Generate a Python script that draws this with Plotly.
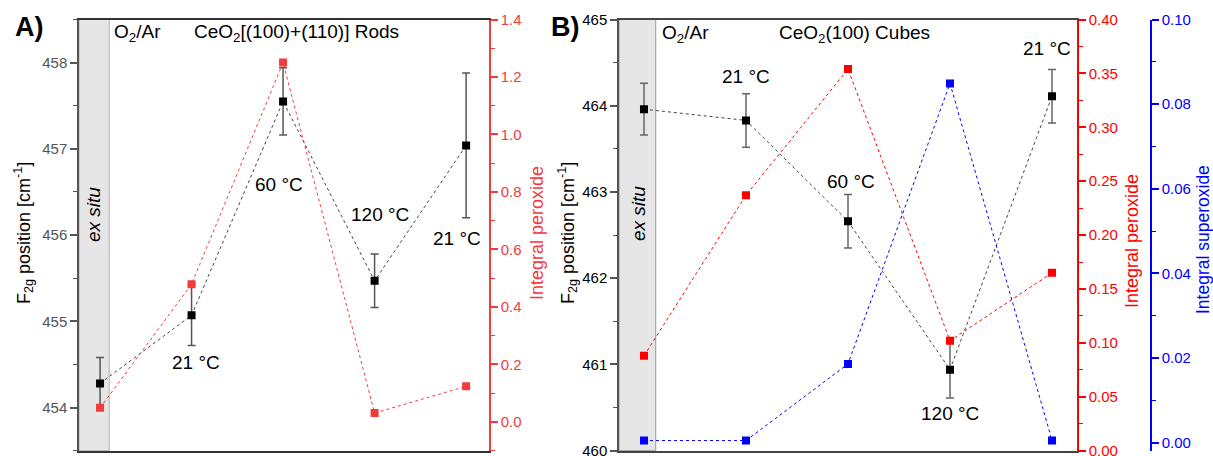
import plotly.graph_objects as go

W, H = 1213, 456

# ---------------- data ----------------
steps = [0, 1, 2, 3, 4]  # ex situ, 21 °C, 60 °C, 120 °C, 21 °C

rods_f2g = [454.28, 455.07, 457.55, 455.47, 457.04]
rods_f2g_err = [0.30, 0.35, 0.39, 0.31, 0.84]
rods_peroxide = [0.049, 0.479, 1.250, 0.031, 0.124]
rods_labels = ["21 °C", "60 °C", "120 °C", "21 °C"]
rods_label_x = [1.05, 1.95, 3.06, 3.90]
rods_label_y = [454.52, 456.59, 456.24, 455.96]

cubes_f2g = [463.96, 463.83, 462.66, 460.94, 464.11]
cubes_f2g_err = [0.30, 0.31, 0.31, 0.33, 0.31]
cubes_peroxide = [0.088, 0.237, 0.354, 0.102, 0.165]
cubes_superoxide = [0.0005, 0.0005, 0.0186, 0.0849, 0.0005]
cubes_labels = ["21 °C", "60 °C", "120 °C", "21 °C"]
cubes_label_x = [1.0, 2.03, 3.0, 3.95]
cubes_label_y = [464.34, 463.12, 460.43, 464.66]

FONT = "Liberation Sans, Arial, sans-serif"
RED_A = "#f03c3c"
RED_B = "#ff0000"
BLUE = "#0000ff"


def px(x):
    return x / W


def py(y):
    return 1 - y / H


Y_DOM = [py(450.7), py(19.5)]

fig = go.Figure()

# ---------------- panel A ----------------
fig.add_trace(go.Scatter(
    x=steps, y=rods_f2g, mode="lines+markers",
    line=dict(color="#444", width=1, dash="dot"),
    marker=dict(symbol="square", size=8, color="black"),
    error_y=dict(type="data", array=rods_f2g_err, color="#555", thickness=1.5, width=4),
    xaxis="x", yaxis="y", showlegend=False))
fig.add_trace(go.Scatter(
    x=steps, y=rods_peroxide, mode="lines+markers",
    line=dict(color=RED_A, width=1, dash="dot"),
    marker=dict(symbol="square", size=8, color=RED_A),
    xaxis="x", yaxis="y2", showlegend=False))

# ---------------- panel B ----------------
fig.add_trace(go.Scatter(
    x=steps, y=cubes_superoxide, mode="lines+markers",
    line=dict(color=BLUE, width=1, dash="dot"),
    marker=dict(symbol="square", size=8, color=BLUE),
    xaxis="x2", yaxis="y5", showlegend=False))
fig.add_trace(go.Scatter(
    x=steps, y=cubes_peroxide, mode="lines+markers",
    line=dict(color=RED_B, width=1, dash="dot"),
    marker=dict(symbol="square", size=8, color=RED_B),
    xaxis="x2", yaxis="y4", showlegend=False))
fig.add_trace(go.Scatter(
    x=steps, y=cubes_f2g, mode="lines+markers",
    line=dict(color="#444", width=1, dash="dot"),
    marker=dict(symbol="square", size=8, color="black"),
    error_y=dict(type="data", array=cubes_f2g_err, color="#666", thickness=1.5, width=4),
    xaxis="x2", yaxis="y3", showlegend=False))

XA = [-0.23, 4.25]
XB = [-0.245, 4.245]

shapes = [
    dict(type="rect", xref="x", yref="y domain", x0=XA[0], x1=0.1, y0=0, y1=1,
         fillcolor="#e6e6e6", line=dict(color="#b0b0b0", width=1), layer="below"),
    dict(type="rect", xref="x2", yref="y3 domain", x0=XB[0], x1=0.115, y0=0, y1=1,
         fillcolor="#e6e6e6", line=dict(color="#999", width=1), layer="below"),
]

ann = []


def text(x, y, s, size=19, color="black", xanchor="center", angle=0, xref="paper", yref="paper"):
    ann.append(dict(x=x, y=y, xref=xref, yref=yref, text=s, showarrow=False,
                    xanchor=xanchor, yanchor="middle", textangle=angle,
                    font=dict(family=FONT, size=size, color=color)))


for lx, ly, s in zip(rods_label_x, rods_label_y, rods_labels):
    text(lx, ly, s, xref="x", yref="y")
for lx, ly, s in zip(cubes_label_x, cubes_label_y, cubes_labels):
    text(lx, ly, s, xref="x2", yref="y3")

text(px(112), py(33), "O<sub>2</sub>/Ar", xanchor="left")
text(px(192), py(33), "CeO<sub>2</sub>[(100)+(110)] Rods", xanchor="left")
text(px(660), py(34), "O<sub>2</sub>/Ar", xanchor="left")
text(px(777), py(34), "CeO<sub>2</sub>(100) Cubes", xanchor="left")
text(px(93), py(215), "<i>ex situ</i>", angle=-90)
text(px(638), py(214), "<i>ex situ</i>", angle=-90)
text(px(23), py(233), "F<sub>2g</sub> position [cm<sup>-1</sup>]", size=18, angle=-90)
text(px(567), py(233), "F<sub>2g</sub> position [cm<sup>-1</sup>]", size=18, angle=-90)
text(px(537), py(233), "Integral peroxide", size=18, color=RED_A, angle=-90)
text(px(1132), py(241), "Integral peroxide", size=18, color=RED_B, angle=-90)
text(px(1203), py(240), "Integral superoxide", size=17.5, color=BLUE, angle=-90)
text(px(29), py(27), "<b>A)</b>", size=27)
text(px(565), py(27), "<b>B)</b>", size=27)


def yax(rng, dtick, minor, color, tickcolor=None, fmt=None, **kw):
    d = dict(range=rng, dtick=dtick, tick0=0, showline=True, automargin=False,
             ticklabeloverflow="allow",
             linecolor=color, linewidth=1.5, ticks="outside", ticklen=7, tickwidth=1.5,
             tickcolor=color, showgrid=False, zeroline=False,
             tickfont=dict(family=FONT, size=15, color=tickcolor or color),
             minor=dict(ticks="outside", ticklen=4, dtick=minor, tickcolor=color,
                        tickwidth=1, showgrid=False))
    if fmt:
        d["tickformat"] = fmt
    d.update(kw)
    return d


fig.update_layout(
    width=W, height=H,
    margin=dict(l=0, r=0, t=0, b=0, pad=0, autoexpand=False),
    paper_bgcolor="white", plot_bgcolor="white",
    font=dict(family=FONT, size=15, color="black"),
    shapes=shapes, annotations=ann,
    xaxis=dict(domain=[px(79), px(489)], range=XA, anchor="y", showline=True,
               linecolor="#333", linewidth=2, mirror=True, showticklabels=False,
               ticks="", showgrid=False, zeroline=False, automargin=False),
    yaxis=yax([453.5, 458.5], 1, 0.5, "#555", domain=Y_DOM, anchor="x"),
    yaxis2=yax([-0.1, 1.4], 0.2, 0.1, RED_A, fmt=".1f", overlaying="y", side="right", anchor="x"),
    xaxis2=dict(domain=[px(619), px(1077)], range=XB, anchor="y3", showline=True,
                linecolor="#444", linewidth=2, mirror=True, showticklabels=False,
                ticks="", showgrid=False, zeroline=False, automargin=False),
    yaxis3=yax([460, 465], 1, 0.5, "#555", tickcolor="black", domain=Y_DOM, anchor="x2"),
    yaxis4=yax([0, 0.4], 0.05, 0.025, RED_B, fmt=".2f", overlaying="y3", side="right", anchor="x2"),
    yaxis5=yax([-0.0019, 0.1], 0.02, 0.01, BLUE, fmt=".2f", overlaying="y3", side="right",
               anchor="free", position=px(1151)),
)

fig.write_html("out.html", config={"displayModeBar": False},
               post_script="document.body.style.margin='0';document.body.style.overflow='hidden';")
